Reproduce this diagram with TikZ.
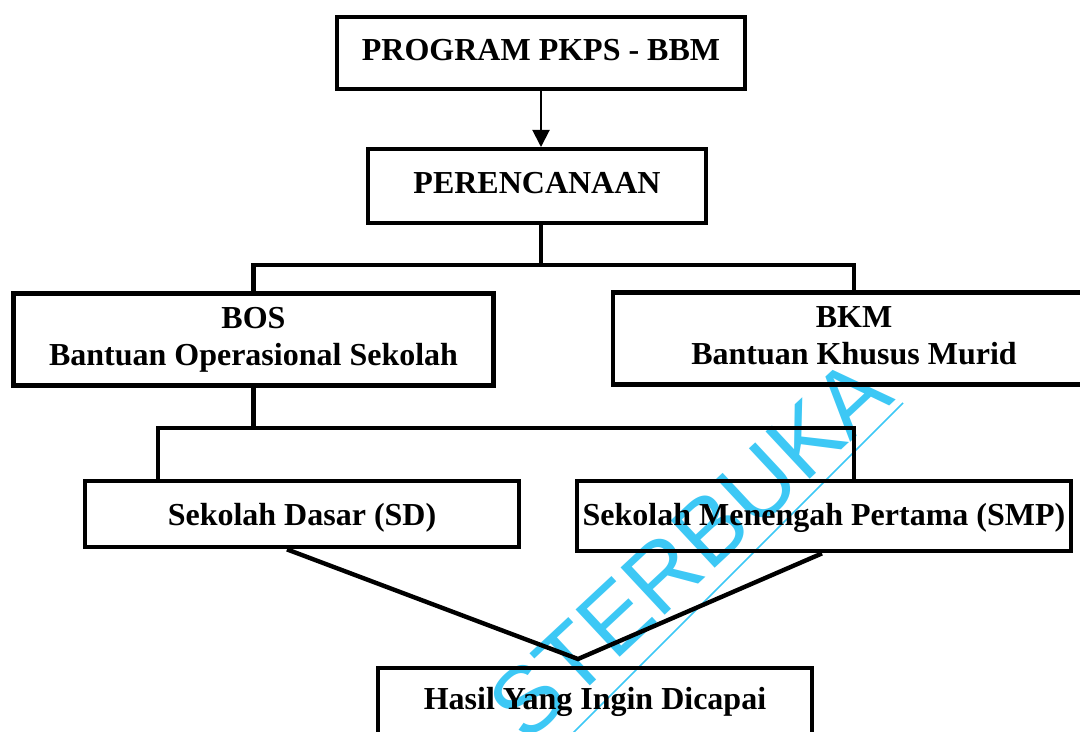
\documentclass[tikz,border=0pt]{standalone}
\usepackage{fontspec}
\setmainfont{Liberation Serif}
\newfontfamily\wmfont{Liberation Sans}
\usetikzlibrary{arrows.meta}
\definecolor{wmcyan}{RGB}{61,200,245}

\begin{document}
\begin{tikzpicture}[x=0.5pt,y=-0.5pt,
  box/.style={draw=black, line width=2.2pt, inner sep=0pt,
    font=\bfseries\fontsize{16}{18.5}\selectfont},
  onebox/.style={box, anchor=north},
  twobox/.style={box, align=center},
  conn/.style={line width=2.2pt},
  feed/.style={line width=1pt, -{Triangle[length=8.5pt,width=8.5pt]}}]
\useasboundingbox (0,0) rectangle (1080,732);
\clip (0,0) rectangle (1080,732);

% background stamp
\node[font={\wmfont\fontsize{47}{47}\selectfont}, text=wmcyan, rotate=43,
      anchor=base east, inner sep=0pt] (wm) at (897,399) {STERBUKA};
\coordinate (wmA) at (903,403);
\coordinate (wmB) at (563,743);
\draw[wmcyan, line width=0.8pt] (wmA) -- (wmB);

% boxes
\node[onebox, minimum width=204pt, text height=21.5pt, text depth=14.5pt]
  (prog) at (541,15) {PROGRAM PKPS - BBM};
\node[onebox, minimum width=169pt, text height=22pt, text depth=15pt]
  (peren) at (537,147) {PERENCANAAN};
\node[twobox, minimum width=240pt, minimum height=46pt]
  (bos) at (253.5,339.5) {BOS\\Bantuan Operasional Sekolah};
\node[twobox, minimum width=241pt, minimum height=46pt]
  (bkm) at (854,338.5) {BKM\\Bantuan Khusus Murid\vphantom{p}};
\node[onebox, minimum width=217pt, text height=22pt, text depth=11pt]
  (sd) at (302,479) {Sekolah Dasar (SD)};
\node[onebox, minimum width=247pt, text height=22pt, text depth=13pt]
  (smp) at (824,479) {Sekolah Menengah Pertama (SMP)};
\node[onebox, minimum width=217pt, text height=20.5pt, text depth=30pt]
  (hasil) at (595,666) {Hasil Yang Ingin Dicapai};

% helper positions
\coordinate (rowA) at (0,265);
\coordinate (rowB) at (0,428);
\coordinate (legL) at (158,0);
\coordinate (vL) at (287,0);
\coordinate (vR) at (822,0);
\coordinate (apex) at (578,659);

% connectors
\draw[feed] (prog.south) -- (prog.south |- peren.north);
\draw[conn] (prog.south |- peren.south) -- (prog.south |- rowA);
\draw[conn] (bos.north) |- (rowA -| bkm.north) -- (bkm.north);
\draw[conn] (bos.south) -- (bos.south |- rowB);
\draw[conn] (sd.north -| legL) |- (rowB -| bkm.south) -- (smp.north -| bkm.south);
\draw[conn] (sd.south -| vL) -- (apex) -- (smp.south -| vR);
\end{tikzpicture}
\end{document}
